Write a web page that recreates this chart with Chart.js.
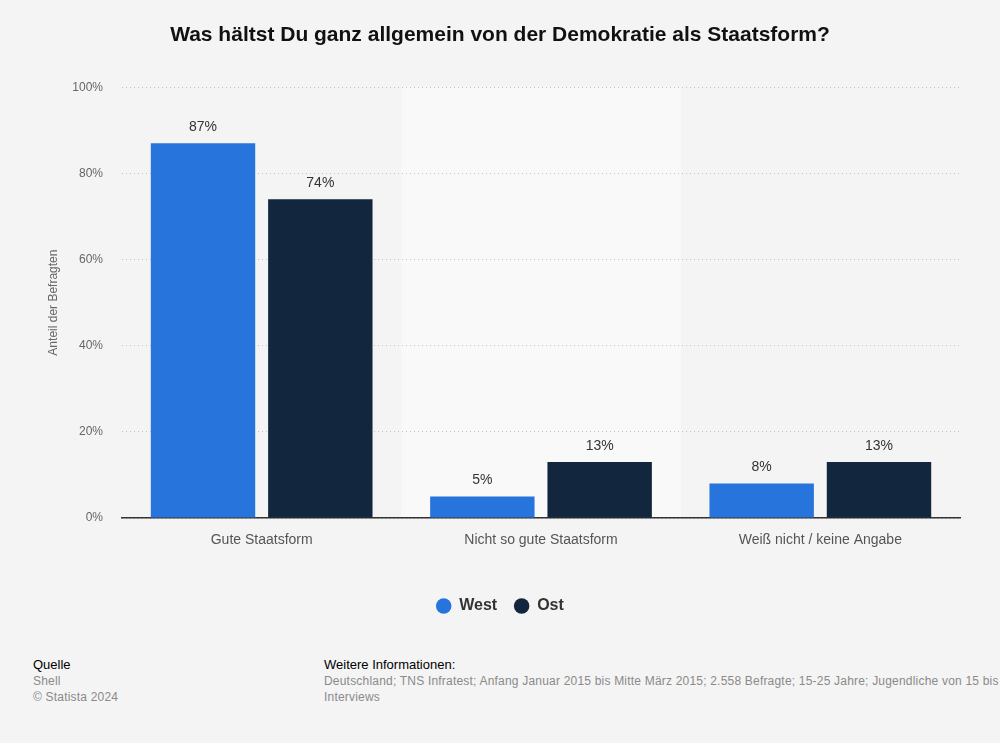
<!DOCTYPE html>
<html>
<head>
<meta charset="utf-8">
<script src="https://cdn.jsdelivr.net/npm/chart.js@4.4.1/dist/chart.umd.min.js"></script>
<style>
  html, body { margin: 0; padding: 0; background: #f4f4f4; }
  #wrap { position: relative; width: 1000px; height: 743px; overflow: hidden; background: #f4f4f4; }
  #chartBox { position: absolute; left: 0; top: 0; width: 1000px; height: 640px; }
  .foot { position: absolute; font-family: "Liberation Sans Narrow", "Arial Narrow", "Liberation Sans", Arial, sans-serif; white-space: nowrap; }
  .fh { font-size: 13px; color: #000; }
  .fg { font-size: 12px; color: #8a8a8a; line-height: 16px; letter-spacing: 0.2px; }
</style>
</head>
<body>
<div id="wrap">
  <div id="chartBox"><canvas id="c"></canvas></div>
  <div class="foot" style="left:33px; top:657px;">
    <div class="fh">Quelle</div>
    <div class="fg" style="margin-top:1px">Shell</div>
    <div class="fg">© Statista 2024</div>
  </div>
  <div class="foot" style="left:324px; top:657px;">
    <div class="fh">Weitere Informationen:</div>
    <div class="fg" style="margin-top:1px">Deutschland; TNS Infratest; Anfang Januar 2015 bis Mitte März 2015; 2.558 Befragte; 15-25 Jahre; Jugendliche von 15 bis</div>
    <div class="fg">Interviews</div>
  </div>
</div>
<script>
const categories = ["Gute Staatsform", "Nicht so gute Staatsform", "Weiß nicht / keine Angabe"];
const westValues = [87, 5, 8];
const ostValues = [74, 13, 13];
const seriesNames = ["West", "Ost"];
const yTicks = [0, 20, 40, 60, 80, 100];
const titleText = "Was hältst Du ganz allgemein von der Demokratie als Staatsform?";
const yAxisTitle = "Anteil der Befragten";

const bandPlugin = {
  id: 'band',
  beforeDraw(chart) {
    const {ctx, chartArea, scales} = chart;
    ctx.save();
    ctx.fillStyle = '#f4f4f4';
    ctx.fillRect(0, 0, chart.width, chart.height);
    const x = scales.x;
    const w = (chartArea.right - chartArea.left) / categories.length;
    const cx = x.getPixelForValue(1);
    ctx.fillStyle = '#f9f9f9';
    ctx.fillRect(cx - w / 2, chartArea.top, w, chartArea.bottom - chartArea.top);
    ctx.restore();
  }
};

const labelPlugin = {
  id: 'vals',
  afterDatasetsDraw(chart) {
    const {ctx} = chart;
    ctx.save();
    ctx.font = '14px "Liberation Sans", Arial, sans-serif';
    ctx.fillStyle = '#333333';
    ctx.textAlign = 'center';
    ctx.textBaseline = 'bottom';
    chart.data.datasets.forEach((ds, i) => {
      const meta = chart.getDatasetMeta(i);
      meta.data.forEach((bar, j) => {
        ctx.fillText(ds.data[j] + '%', bar.x, bar.y - 9);
      });
    });
    ctx.restore();
  }
};

new Chart(document.getElementById('c'), {
  type: 'bar',
  data: {
    labels: categories,
    datasets: [
      { label: seriesNames[0], data: westValues, backgroundColor: '#2775dc', borderWidth: 0 },
      { label: seriesNames[1], data: ostValues, backgroundColor: '#12263d', borderWidth: 0 }
    ]
  },
  options: {
    responsive: true,
    maintainAspectRatio: false,
    animation: false,
    categoryPercentage: 0.84,
    barPercentage: 0.89,
    layout: { padding: { left: 40, right: 40, top: 0, bottom: 16 } },
    plugins: {
      tooltip: { enabled: false },
      title: {
        display: true,
        text: titleText,
        color: '#111111',
        font: { family: '"Liberation Sans", Arial, sans-serif', size: 21, weight: 'bold' },
        padding: { top: 23, bottom: 39 }
      },
      legend: {
        position: 'bottom',
        labels: {
          usePointStyle: true,
          pointStyle: 'circle',
          boxHeight: 11,
          boxWidth: 15,
          padding: 17,
          color: '#333333',
          font: { family: '"Liberation Sans", Arial, sans-serif', size: 16, weight: 'bold' }
        }
      }
    },
    scales: {
      x: {
        grid: { display: false, drawTicks: false },
        border: { display: true, color: '#333333', width: 1.5 },
        ticks: {
          color: '#555555',
          padding: 14,
          font: { family: '"Liberation Sans", Arial, sans-serif', size: 14 }
        },
        afterFit(scale) { scale.height = 63; }
      },
      y: {
        min: 0,
        max: 100,
        afterBuildTicks(scale) { scale.ticks = yTicks.map(v => ({ value: v })); },
        grid: { color: '#c4c4c4', lineWidth: 1, drawTicks: false },
        border: { display: false, dash: [1, 3] },
        ticks: {
          color: '#666666',
          padding: 19,
          font: { family: '"Liberation Sans", Arial, sans-serif', size: 12 },
          callback: v => v + '%'
        },
        title: {
          display: true,
          text: yAxisTitle,
          color: '#666666',
          font: { family: '"Liberation Sans", Arial, sans-serif', size: 12 },
          padding: { top: 6, bottom: 0 }
        },
        afterFit(scale) { scale.width = 82; }
      }
    }
  },
  plugins: [bandPlugin, labelPlugin]
});
</script>
</body>
</html>
